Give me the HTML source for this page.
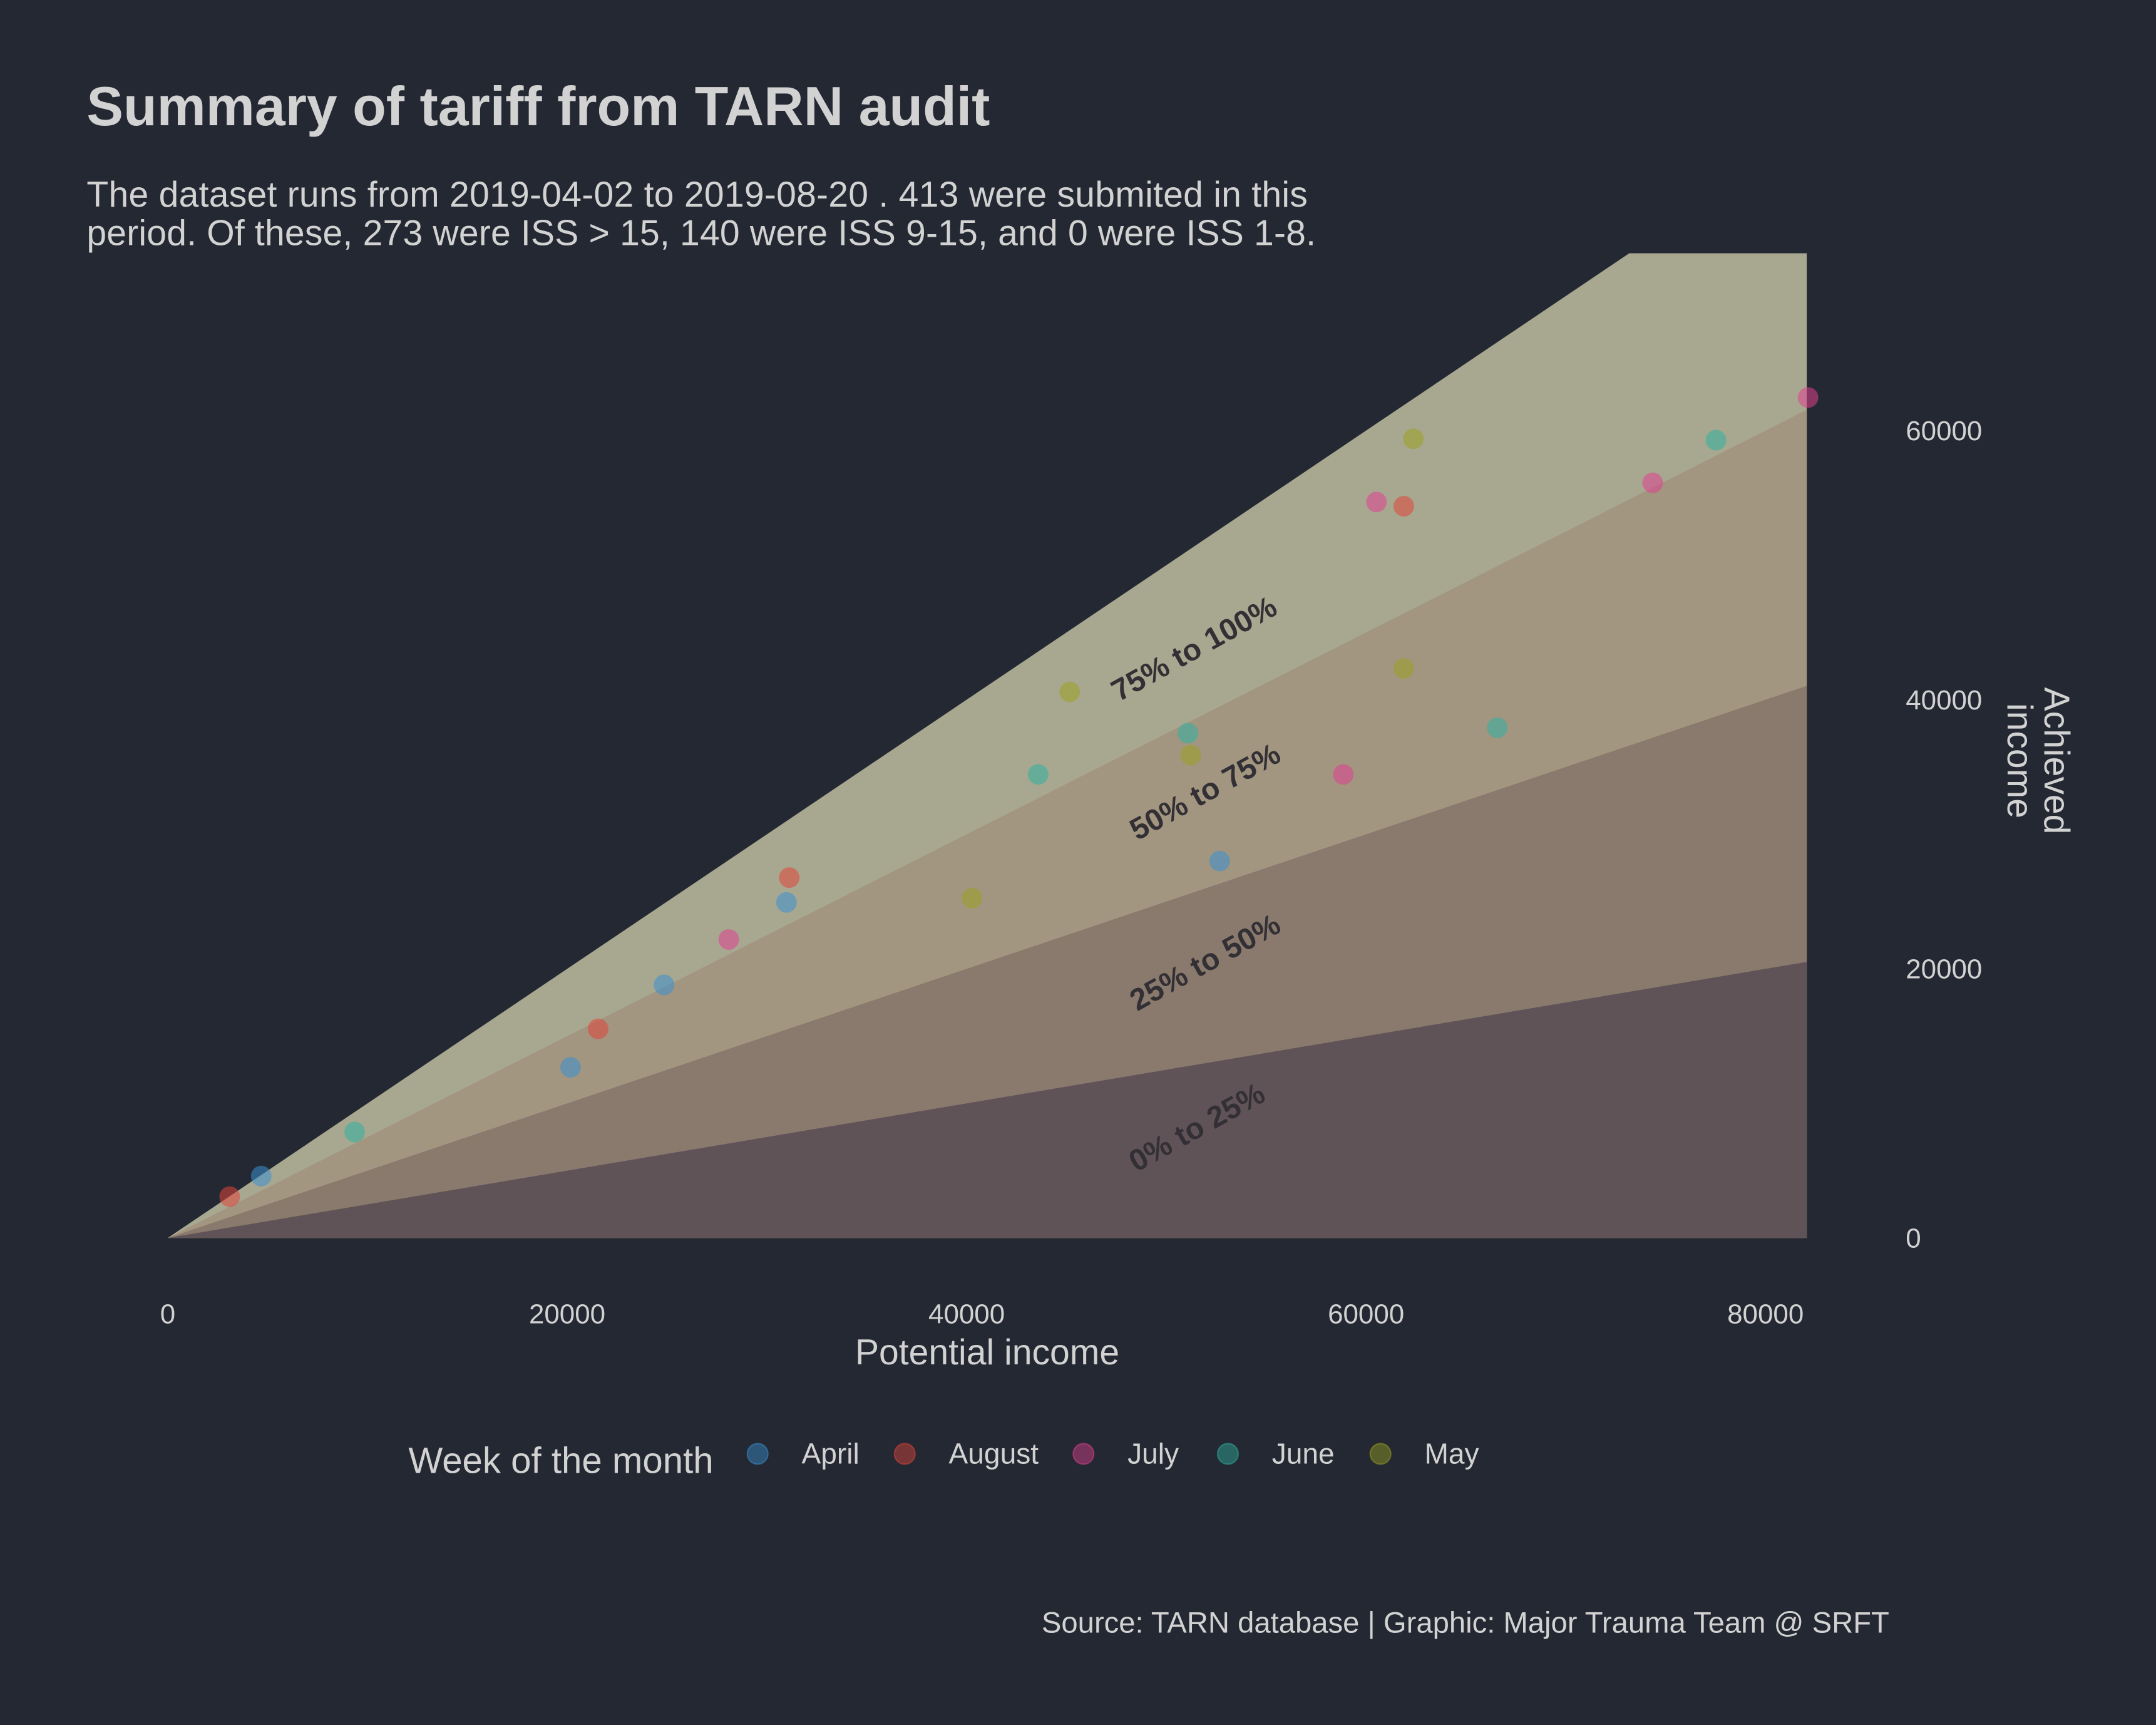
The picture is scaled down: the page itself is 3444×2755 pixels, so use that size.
<!DOCTYPE html>
<html><head><meta charset="utf-8"><style>
html,body{margin:0;padding:0;background:#242832;}
svg{display:block;font-family:"Liberation Sans",sans-serif;}
</style></head><body>
<svg id="chart" width="3444" height="2755" viewBox="0 0 1568 1254" xmlns="http://www.w3.org/2000/svg">
<rect width="1568" height="1254" fill="#242832"/>
<text x="63" y="91" font-size="40" font-weight="bold" fill="#d2d2d2" textLength="657">Summary of tariff from TARN audit</text>
<text x="63" y="150" font-size="26" fill="#d2d2d2" textLength="888">The dataset runs from 2019-04-02 to 2019-08-20 . 413 were submited in this</text>
<text x="63" y="178" font-size="26" fill="#d2d2d2" textLength="894">period. Of these, 273 were ISS &gt; 15, 140 were ISS 9-15, and 0 were ISS 1-8.</text>
<g id="bands"></g>
<g id="bandlabels"></g>
<g id="points"></g>
<g id="axes"></g>
<text x="718" y="992" font-size="26" fill="#d2d2d2" text-anchor="middle">Potential income</text>
<text transform="translate(1475,553) rotate(90)" font-size="26" fill="#d2d2d2" text-anchor="middle"><tspan x="0" dy="-12">Achieved</tspan><tspan x="0" dy="27">income</tspan></text>
<text x="297" y="1071" font-size="26.5" fill="#d2d2d2">Week of the month</text>
<g id="legend"></g>
<text x="1374" y="1187" font-size="21.5" fill="#d2d2d2" text-anchor="end">Source: TARN database | Graphic: Major Trauma Team @ SRFT</text>
</svg>
<script>
const xTicks=[0,20000,40000,60000,80000];
const yTicks=[0,20000,40000,60000];
const bandFractions=[1,0.75,0.5,0.25];
const bandLabels=["75% to 100%","50% to 75%","25% to 50%","0% to 25%"];
const months=["April","August","July","June","May"];
const monthColors=["#3a8fd0","#e0443a","#e04090","#30b0a0","#9aa020"];
const aprilX=[4680,20170,24850,30980,52670];
const aprilY=[4600,12680,18810,24940,28010];
const augustX=[3100,21550,31120,61890];
const augustY=[3070,15540,26780,54380];
const julyX=[28090,60520,58860,74350,82130];
const julyY=[22180,54690,34450,56120,62460];
const juneX=[9360,43580,51080,66570,77520];
const juneY=[7870,34450,37510,37920,59290];
const mayX=[45160,40270,51220,61890,62370];
const mayY=[40580,25250,35880,42320,59390];
const xMax=82066,yMax=73180;
const X0=122,X1=1314,Y0=900,Y1=184;
const sx=v=>X0+(v/xMax)*(X1-X0);
const sy=v=>Y0-(v/yMax)*(Y0-Y1);
const NS="http://www.w3.org/2000/svg";
function mk(t,a,p){const e=document.createElementNS(NS,t);for(const k in a)e.setAttribute(k,a[k]);p.appendChild(e);return e;}
const bandFill=["#a8a890","#a39680","#8a7a6e","#605358"];
const bands=document.getElementById('bands');
bandFractions.forEach((f,i)=>{
  const yEnd=f*xMax;
  let pts;
  if(yEnd>yMax){const xc=yMax/f;pts=`${sx(0)},${sy(0)} ${sx(xc)},${sy(yMax)} ${sx(xMax)},${sy(yMax)} ${sx(xMax)},${sy(0)}`;}
  else pts=`${sx(0)},${sy(0)} ${sx(xMax)},${sy(yEnd)} ${sx(xMax)},${sy(0)}`;
  const p=mk('polygon',{points:pts,fill:bandFill[i]},bands);
  
  
});
const bl=document.getElementById('bandlabels');
const labPos=[[872,478],[880,582],[880,706],[874,826]];
bandLabels.forEach((t,i)=>{
  const e=mk('text',{transform:`translate(${labPos[i][0]},${labPos[i][1]}) rotate(-29)`,'font-size':22,'font-weight':'bold',fill:'#333035','text-anchor':'middle'},bl);
  e.textContent=t;
  
  
});
const series=[[aprilX,aprilY],[augustX,augustY],[julyX,julyY],[juneX,juneY],[mayX,mayY]];
const pg=document.getElementById('points');
series.forEach((s,m)=>{
  s[0].forEach((x,i)=>{
    const c=mk('circle',{cx:sx(x),cy:sy(s[1][i]),r:7.5,fill:monthColors[m],'fill-opacity':0.55},pg);
    
    
  });
});
const ax=document.getElementById('axes');
xTicks.forEach(v=>{
  const t=mk('text',{x:sx(v),y:962,'font-size':20,fill:'#d2d2d2','text-anchor':'middle'},ax);
  t.textContent=v;
  
  
});
yTicks.forEach(v=>{
  const t=mk('text',{x:1386,y:sy(v)+7,'font-size':20,fill:'#d2d2d2'},ax);
  t.textContent=v;
  
  
});
const lg=document.getElementById('legend');
const lgX=[551,658,788,893,1004];
months.forEach((m,i)=>{
  const c=mk('circle',{cx:lgX[i],cy:1057,r:7.5,fill:monthColors[i],'fill-opacity':0.45,stroke:monthColors[i],'stroke-opacity':0.5},lg);
  
  
  const t=mk('text',{x:lgX[i]+32,y:1064,'font-size':21,fill:'#d2d2d2'},lg);
  t.textContent=m;
  
  
});
</script>
</body></html>
